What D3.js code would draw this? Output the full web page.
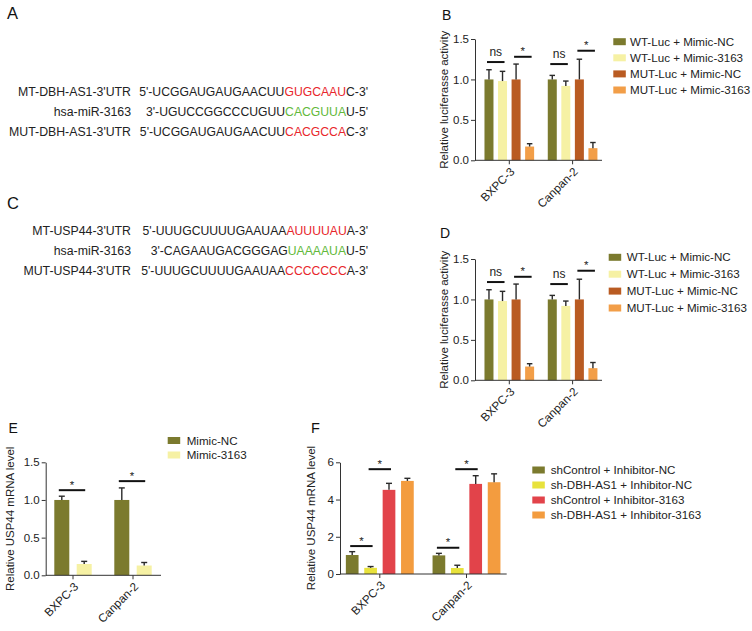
<!DOCTYPE html>
<html><head><meta charset="utf-8">
<script src="https://cdn.jsdelivr.net/npm/d3@7"></script>
<style>html,body{margin:0;padding:0;background:#fff;}</style>
</head><body>
<script>
// ---------- DATA ----------
const groups = ["BXPC-3", "Canpan-2"];

const seriesB = ["WT-Luc + Mimic-NC", "WT-Luc + Mimic-3163", "MUT-Luc + Mimic-NC", "MUT-Luc + Mimic-3163"];
const valuesB = [[1.0, 0.98, 1.0, 0.17], [1.0, 0.92, 1.0, 0.15]];
const errorsB = [[0.12, 0.12, 0.19, 0.035], [0.05, 0.06, 0.25, 0.07]];
const sigB = [
  {g: 0, a: 0, b: 1, y: 1.215, t: "ns"}, {g: 0, a: 2, b: 3, y: 1.28, t: "*"},
  {g: 1, a: 0, b: 1, y: 1.19, t: "ns"}, {g: 1, a: 2, b: 3, y: 1.355, t: "*"}];

const seriesD = ["WT-Luc + Mimic-NC", "WT-Luc + Mimic-3163", "MUT-Luc + Mimic-NC", "MUT-Luc + Mimic-3163"];
const valuesD = [[1.0, 0.98, 1.0, 0.17], [1.0, 0.92, 1.0, 0.15]];
const errorsD = [[0.12, 0.12, 0.19, 0.035], [0.05, 0.06, 0.25, 0.07]];
const sigD = [
  {g: 0, a: 0, b: 1, y: 1.215, t: "ns"}, {g: 0, a: 2, b: 3, y: 1.28, t: "*"},
  {g: 1, a: 0, b: 1, y: 1.19, t: "ns"}, {g: 1, a: 2, b: 3, y: 1.355, t: "*"}];

const seriesE = ["Mimic-NC", "Mimic-3163"];
const valuesE = [[1.0, 0.15], [1.0, 0.13]];
const errorsE = [[0.05, 0.035], [0.16, 0.04]];
const sigE = [{g: 0, a: 0, b: 1, y: 1.13, t: "*"}, {g: 1, a: 0, b: 1, y: 1.25, t: "*"}];

const seriesF = ["shControl + Inhibitor-NC", "sh-DBH-AS1 + Inhibitor-NC", "shControl + Inhibitor-3163", "sh-DBH-AS1 + Inhibitor-3163"];
const valuesF = [[1.02, 0.33, 4.52, 5.0], [1.0, 0.32, 4.84, 4.93]];
const errorsF = [[0.18, 0.07, 0.35, 0.14], [0.11, 0.15, 0.44, 0.45]];
const sigF = [
  {g: 0, a: 0, b: 1, y: 1.5, t: "*"}, {g: 0, a: 1, b: 2, y: 5.63, t: "*"},
  {g: 1, a: 0, b: 1, y: 1.41, t: "*"}, {g: 1, a: 1, b: 2, y: 5.63, t: "*"}];

const ticksLuc = [0, 0.5, 1.0, 1.5];
const ticksF = [0, 2, 4, 6];

const seqLabelsA = ["MT-DBH-AS1-3'UTR", "hsa-miR-3163", "MUT-DBH-AS1-3'UTR"];
const seqPartsA = [
  ["5'-UCGGAUGAUGAACUU", "GUGCAAU", "C-3'"],
  ["3'-UGUCCGGCCCUGUU", "CACGUUA", "U-5'"],
  ["5'-UCGGAUGAUGAACUU", "CACGCCA", "C-3'"]];
const seqLabelsC = ["MT-USP44-3'UTR", "hsa-miR-3163", "MUT-USP44-3'UTR"];
const seqPartsC = [
  ["5'-UUUGCUUUUGAAUAA", "AUUUUAU", "A-3'"],
  ["3'-CAGAAUGACGGGAG", "UAAAAUA", "U-5'"],
  ["5'-UUUGCUUUUGAAUAA", "CCCCCCC", "A-3'"]];

// ---------- STYLE ----------
const FONT = "'Liberation Sans', Arial, Helvetica, sans-serif";
const INK = "#222";
const colLuc = ["#7b7a2e", "#f6f1a4", "#b95b22", "#f29e48"];
const colE = ["#7b7a2e", "#f6f1a4"];
const colF = ["#7b7a2e", "#e8e23c", "#e2434a", "#f39c3f"];
const RED = "#e8262b", GREEN = "#62b93a";

const svg = d3.select("body").append("svg")
  .attr("width", 752).attr("height", 631)
  .style("font-family", FONT);

// panel letters
const letters = [
  {t: "A", x: 7, y: 19.3, s: 16.5}, {t: "B", x: 442, y: 20, s: 14},
  {t: "C", x: 7, y: 209, s: 16.5}, {t: "D", x: 440, y: 238.3, s: 14},
  {t: "E", x: 8.5, y: 432.7, s: 14}, {t: "F", x: 311, y: 432.7, s: 14.5}];
svg.selectAll("text.letter").data(letters).join("text")
  .attr("class", "letter").attr("x", d => d.x).attr("y", d => d.y)
  .attr("font-size", d => d.s).attr("fill", "#111").text(d => d.t);

// sequences
function seqBlock(labels, parts, y0, rowH, labelX, seqX) {
  labels.forEach((lab, i) => {
    const y = y0 + i * rowH;
    svg.append("text").attr("x", labelX).attr("y", y).attr("text-anchor", "end")
      .attr("font-size", 12.3).attr("fill", INK).text(lab);
    const t = svg.append("text").attr("x", seqX).attr("y", y).attr("text-anchor", "end")
      .attr("font-size", 12.2).attr("fill", INK);
    const mid = (i === 1) ? GREEN : RED;
    t.append("tspan").text(parts[i][0]);
    t.append("tspan").attr("fill", mid).text(parts[i][1]);
    t.append("tspan").text(parts[i][2]);
  });
}
seqBlock(seqLabelsA, seqPartsA, 96, 20, 131, 368);
seqBlock(seqLabelsC, seqPartsC, 235.3, 19.8, 131, 368);

// bar panels
function barPanel(p) {
  const g = svg.append("g");
  const y = d3.scaleLinear().domain(p.yDomain).range([p.yBottom, p.yTop]);
  const step = p.centers[1] - p.centers[0];
  const x0 = d3.scaleBand().domain(groups)
    .range([p.centers[0] - step / 2, p.centers[1] + step / 2]).padding(0);
  const n = p.series.length;
  const pin = 1 - p.barW / p.barStep;
  const x1 = d3.scaleBand().domain(d3.range(n))
    .range([-n * p.barStep / 2, n * p.barStep / 2]).paddingInner(pin).paddingOuter(pin / 2);
  const cx = gi => x0(groups[gi]) + x0.bandwidth() / 2;
  const bw = x1.bandwidth();

  const flat = [];
  p.values.forEach((row, gi) => row.forEach((v, si) => flat.push({gi, si, v, e: p.errors[gi][si]})));

  // bars
  g.selectAll("rect.bar").data(flat).join("rect").attr("class", "bar")
    .attr("x", d => cx(d.gi) + x1(d.si)).attr("width", bw)
    .attr("y", d => y(d.v)).attr("height", d => y(0) - y(d.v))
    .attr("fill", d => p.colors[d.si]);
  // error bars
  const eg = g.selectAll("g.err").data(flat).join("g").attr("class", "err")
    .attr("stroke", "#2a2a2a").attr("stroke-width", 1.4);
  eg.append("line")
    .attr("x1", d => cx(d.gi) + x1(d.si) + bw / 2).attr("x2", d => cx(d.gi) + x1(d.si) + bw / 2)
    .attr("y1", d => y(d.v)).attr("y2", d => y(d.v + d.e));
  eg.append("line")
    .attr("x1", d => cx(d.gi) + x1(d.si) + bw / 2 - p.capW / 2)
    .attr("x2", d => cx(d.gi) + x1(d.si) + bw / 2 + p.capW / 2)
    .attr("y1", d => y(d.v + d.e)).attr("y2", d => y(d.v + d.e));

  // y axis
  const ya = g.append("g").attr("transform", `translate(${p.axisX[0]},0)`)
    .call(d3.axisLeft(y).tickValues(p.yTicks).tickFormat(p.fmt).tickSize(4).tickSizeOuter(0).tickPadding(2));
  ya.selectAll("path,line").attr("stroke", "#333");
  ya.selectAll("text").attr("font-size", 11.5).attr("fill", INK).attr("font-family", FONT);

  // x axis line and ticks
  g.append("line").attr("x1", p.axisX[0]).attr("x2", p.axisX[1])
    .attr("y1", y(0)).attr("y2", y(0)).attr("stroke", "#333");
  g.selectAll("line.xt").data(groups).join("line").attr("class", "xt")
    .attr("x1", (d, i) => cx(i)).attr("x2", (d, i) => cx(i))
    .attr("y1", y(0)).attr("y2", y(0) + 4).attr("stroke", "#333");
  g.selectAll("text.xl").data(groups).join("text").attr("class", "xl")
    .attr("transform", (d, i) => `translate(${cx(i) + 6},${y(0) + 12}) rotate(-45)`)
    .attr("text-anchor", "end").attr("font-size", 11.7).attr("fill", INK).text(d => d);

  // y title
  g.append("text")
    .attr("transform", `translate(${p.titleX},${(y(0) + y(p.yDomain[1])) / 2}) rotate(-90)`)
    .attr("text-anchor", "middle").attr("font-size", 11.5).attr("fill", INK).text(p.title);

  // significance
  p.sig.forEach(s => {
    const xa = cx(s.g) + x1(s.a) + bw / 2 - p.sigExt[0];
    const xb = cx(s.g) + x1(s.b) + bw / 2 + p.sigExt[1];
    g.append("line").attr("x1", xa).attr("x2", xb).attr("y1", y(s.y)).attr("y2", y(s.y))
      .attr("stroke", "#111").attr("stroke-width", 2);
    g.append("text").attr("x", (xa + xb) / 2).attr("y", y(s.y) - (s.t === "ns" ? 6 : 1.5))
      .attr("text-anchor", "middle").attr("font-size", s.t === "ns" ? 12 : 11.5).attr("fill", INK).text(s.t);
  });

  // legend
  const lg = g.selectAll("g.leg").data(p.series).join("g").attr("class", "leg")
    .attr("transform", (d, i) => `translate(${p.legX},${p.legY + i * p.legStep})`);
  lg.append("rect").attr("x", 0).attr("y", -3.5).attr("width", 12.5).attr("height", 7)
    .attr("fill", (d, i) => p.colors[i]);
  lg.append("text").attr("x", p.legTextDx).attr("y", 0).attr("dy", "0.36em")
    .attr("font-size", 11.6).attr("fill", INK).text(d => d);
}

const fmt1 = d3.format(".1f");
barPanel({series: seriesB, values: valuesB, errors: errorsB, sig: sigB, colors: colLuc,
  yDomain: [0, 1.5], yTicks: ticksLuc, fmt: fmt1, yBottom: 160.3, yTop: 39,
  axisX: [475, 602], centers: [509.3, 572.6], barW: 9, barStep: 13.55, capW: 5.5,
  title: "Relative luciferasse activity", titleX: 447.5, sigExt: [2, 2],
  legX: 613.3, legY: 41.7, legStep: 16.1, legTextDx: 16.7});

barPanel({series: seriesD, values: valuesD, errors: errorsD, sig: sigD, colors: colLuc,
  yDomain: [0, 1.5], yTicks: ticksLuc, fmt: fmt1, yBottom: 380.3, yTop: 259,
  axisX: [475, 602], centers: [509.3, 572.6], barW: 9, barStep: 13.55, capW: 5.5,
  title: "Relative luciferasse activity", titleX: 447.5, sigExt: [2, 2],
  legX: 608.7, legY: 257.3, legStep: 16.9, legTextDx: 18});

barPanel({series: seriesE, values: valuesE, errors: errorsE, sig: sigE, colors: colE,
  yDomain: [0, 1.5], yTicks: ticksLuc, fmt: fmt1, yBottom: 575.3, yTop: 462.3,
  axisX: [45.7, 161], centers: [73, 133], barW: 15, barStep: 22.4, capW: 6,
  title: "Relative USP44 mRNA level", titleX: 14, sigExt: [3, 1],
  legX: 167.7, legY: 440.5, legStep: 14.5, legTextDx: 19});

barPanel({series: seriesF, values: valuesF, errors: errorsF, sig: sigF, colors: colF,
  yDomain: [0, 6], yTicks: ticksF, fmt: d3.format("d"), yBottom: 574, yTop: 462.3,
  axisX: [340, 506.7], centers: [379.8, 466.5], barW: 12.7, barStep: 18.4, capW: 6,
  title: "Relative USP44 mRNA level", titleX: 314.5, sigExt: [2, 2],
  legX: 532.3, legY: 470, legStep: 15, legTextDx: 18.4});
</script>
</body></html>
